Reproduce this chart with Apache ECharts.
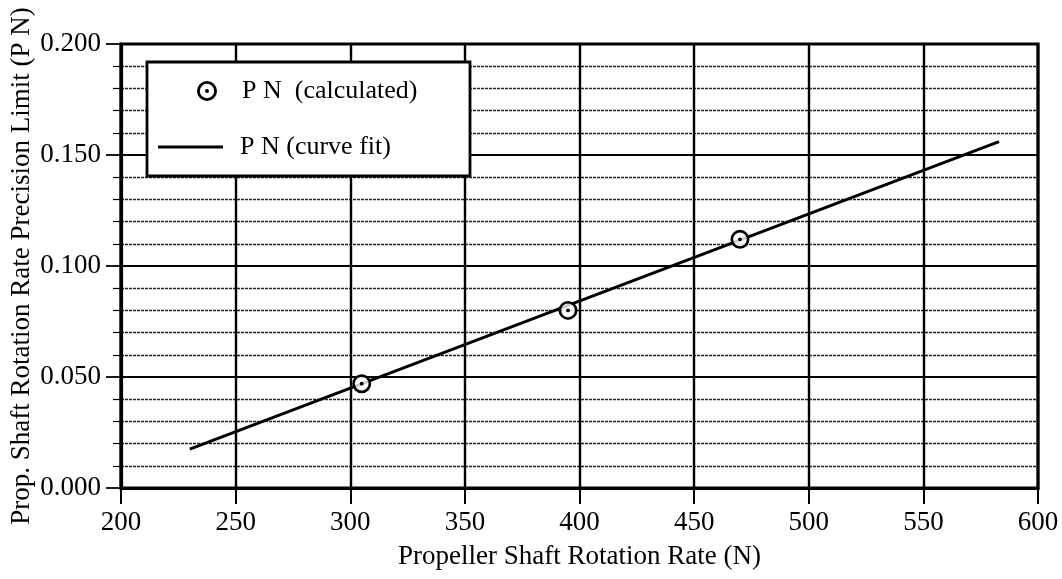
<!DOCTYPE html>
<html>
<head>
<meta charset="utf-8">
<script src="https://cdn.jsdelivr.net/npm/echarts@6/dist/echarts.min.js"></script>
<style>html,body{margin:0;padding:0;background:#fff;}#c{width:1062px;height:579px;}</style>
</head>
<body>
<div id="c"></div>
<script>
const calcN = [305, 395, 470];
const calcPN = [0.047, 0.080, 0.112];
const fitN = [230, 583];
const fitPN = [0.0175, 0.156];
const xTicks = [200, 250, 300, 350, 400, 450, 500, 550, 600];
const yTicks = [0.000, 0.050, 0.100, 0.150, 0.200];
const calcName = 'P N  (calculated)';
const fitName = 'P N (curve fit)';

const FONT = '"Liberation Serif", "Times New Roman", serif';
const ring = 'path://M0 -10A10 10 0 1 1 0 10A10 10 0 1 1 0 -10ZM0 -7.2A7.2 7.2 0 1 0 0 7.2A7.2 7.2 0 1 0 0 -7.2ZM0 -2A2 2 0 1 1 0 2A2 2 0 1 1 0 -2Z';
const bar = 'path://M0 0H65V3H0Z';

const chart = echarts.init(document.getElementById('c'), null, {renderer: 'canvas'});
chart.setOption({
  animation: false,
  backgroundColor: '#fff',
  grid: {left: 121, right: 24, top: 44, bottom: 91, show: true, borderColor: '#000', borderWidth: 3.2,
    backgroundColor: 'transparent', containLabel: false, outerBoundsMode: 'none'},
  graphic: [{
    type: 'rect', z: 3,
    shape: {x: 147, y: 62, width: 323, height: 114},
    style: {fill: '#fff', stroke: '#000', lineWidth: 2.8}
  }],
  legend: [{
    z: 5, orient: 'vertical', left: 197, top: 78, padding: 0,
    itemWidth: 20, itemHeight: 20,
    data: [{name: calcName, icon: ring}],
    textStyle: {fontFamily: FONT, fontSize: 26, color: '#000', padding: [0, 0, 0, 20]}
  }, {
    z: 5, orient: 'vertical', left: 158, top: 134, padding: 0,
    itemWidth: 65, itemHeight: 14,
    data: [{name: fitName, icon: bar}],
    textStyle: {fontFamily: FONT, fontSize: 26, color: '#000', padding: [0, 0, 0, 12]}
  }],
  xAxis: {
    type: 'value', min: 200, max: 600, interval: 50,
    name: 'Propeller Shaft Rotation Rate (N)', nameLocation: 'middle', nameGap: 55,
    nameTextStyle: {fontFamily: FONT, fontSize: 27, color: '#000'},
    axisLine: {lineStyle: {color: '#000', width: 3.2}},
    axisTick: {show: true, length: 16, lineStyle: {color: '#000', width: 2}},
    axisLabel: {fontFamily: FONT, fontSize: 27, color: '#000', margin: 21,
      formatter: v => xTicks.includes(v) ? String(v) : ''},
    splitLine: {show: true, lineStyle: {color: '#000', width: 2.4}}
  },
  yAxis: {
    type: 'value', min: 0, max: 0.2, interval: 0.05,
    name: 'Prop. Shaft Rotation Rate Precision Limit (P N)', nameLocation: 'middle', nameGap: 86,
    nameMoveOverlap: false,
    nameTextStyle: {fontFamily: FONT, fontSize: 27, color: '#000'},
    axisLine: {lineStyle: {color: '#000', width: 3.2}},
    axisTick: {show: true, length: 15, lineStyle: {color: '#000', width: 1.8}},
    minorTick: {show: true, splitNumber: 5, length: 8, lineStyle: {color: '#000', width: 1.2}},
    axisLabel: {fontFamily: FONT, fontSize: 27, color: '#000', margin: 20,
      formatter: v => yTicks.some(t => Math.abs(t - v) < 1e-9) ? v.toFixed(3) : ''},
    splitLine: {show: true, lineStyle: {color: '#000', width: 2}},
    minorSplitLine: {show: true, lineStyle: {color: '#222', width: 1.3, type: [3, 1]}}
  },
  series: [{
    name: fitName, type: 'line', symbol: 'none', z: 2,
    data: fitN.map((n, i) => [n, fitPN[i]]),
    lineStyle: {color: '#000', width: 3}, itemStyle: {color: '#000'}
  }, {
    name: calcName, type: 'scatter', symbol: ring, symbolSize: 19, z: 3,
    data: calcN.map((n, i) => [n, calcPN[i]]),
    itemStyle: {color: '#000', opacity: 1}
  }, {
    name: '_fill', type: 'scatter', symbol: 'circle', symbolSize: 15, z: 2.5,
    data: calcN.map((n, i) => [n, calcPN[i]]),
    itemStyle: {color: '#fff'}, silent: true
  }]
});
</script>
</body>
</html>
